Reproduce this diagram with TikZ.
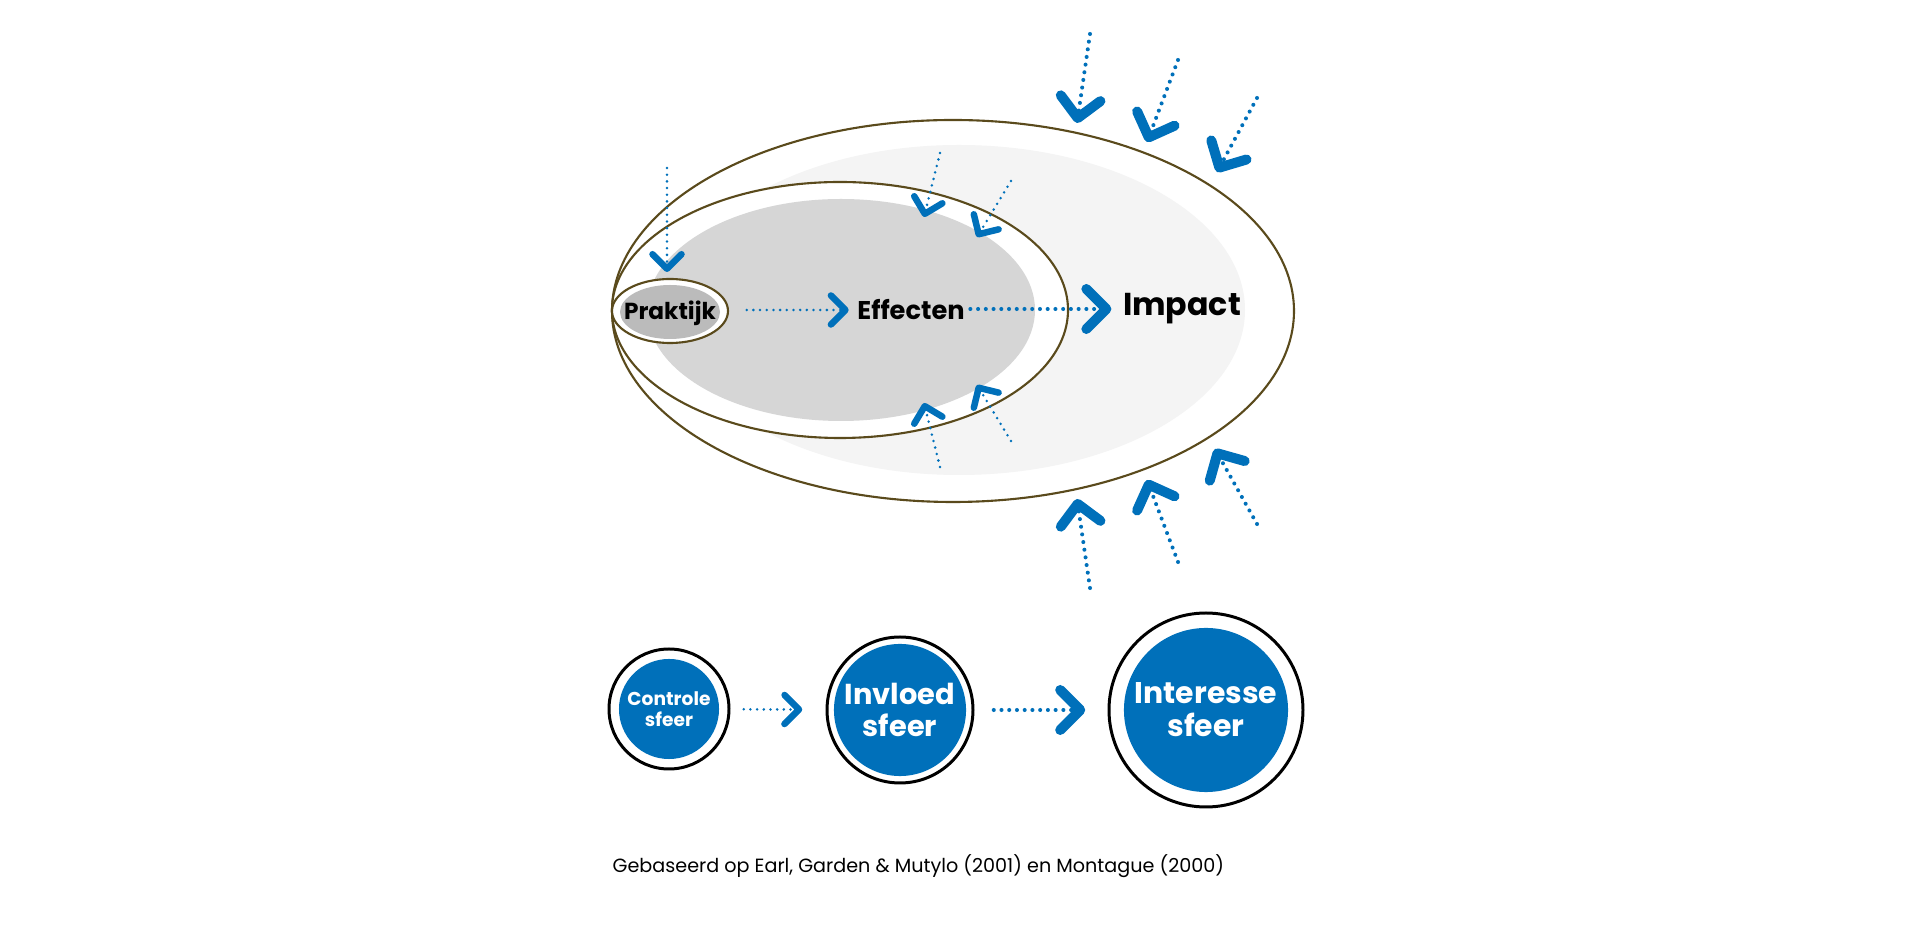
\documentclass[tikz,border=0pt]{standalone}
\usepackage{fontspec}
\setmainfont{Poppins}
\usetikzlibrary{arrows.meta}
\usepackage{xcolor}
\definecolor{blauw}{HTML}{0070BA}
\definecolor{rand}{HTML}{5A4A1C}
\definecolor{lichtgrijs}{HTML}{F4F4F4}
\definecolor{middengrijs}{HTML}{D6D6D6}
\definecolor{donkergrijs}{HTML}{BBBBBB}
\tikzset{>={Straight Barb[length=2mm, width=4mm, line width=1mm, round]}}
\tikzset{
	stippel/.style={color=blauw, line width=1.15pt, line cap=round, dash pattern=on 0pt off 2.2pt},
	fijnstippel/.style={color=blauw, line width=0.8pt, line cap=round, dash pattern=on 0pt off 1.9pt},
	kleinepijl/.style={-{Straight Barb[length=1.45mm, width=2.9mm, line width=0.65mm, round]}},
	bol/.style={circle, fill=blauw, text=white, align=center, inner sep=0pt},
}

\begin{document}
\begin{tikzpicture}[x=0.01cm, y=-0.01cm]
	\useasboundingbox (0,0) rectangle (1920,934);
	\begin{scope}
		%impact: buitenste ellips
		\draw [rand, line width=0.6pt, fill=white] (953,311) ellipse [x radius=341, y radius=191];
		\fill [lichtgrijs] (959,310) ellipse [x radius=286, y radius=165];
		%effecten: middelste ellips
		\draw [rand, line width=0.6pt, fill=white] (840,310) ellipse [x radius=228, y radius=128];
		\fill [middengrijs] (841,310) ellipse [x radius=194, y radius=111];
		%praktijk
		\draw [rand, line width=0.6pt, fill=white] (670,311) ellipse [x radius=58, y radius=32];
		\fill [donkergrijs] (670,312) ellipse [x radius=50, y radius=27];
		\node [inner sep=0pt, text depth=0pt] (praktijk) at (670,310) {\fontsize{6.6}{8}\selectfont\bfseries Praktijk};
		\node [inner sep=0pt, text depth=0pt] (effecten) at (911,309) {\fontsize{7.3}{9}\selectfont\bfseries Effecten};
		\node [inner sep=0pt, text depth=0pt] (impact) at (1182,304) {\fontsize{9}{11}\selectfont\bfseries Impact};
		%pijlen tussen de ellipsen
		\draw [fijnstippel, kleinepijl, shorten <=0.3cm, shorten >=0.08cm] (praktijk.east) -- (praktijk.east -| effecten.west);
		\draw [stippel, arrows=->, shorten <=0.05cm, shorten >=0.11cm] (effecten.east) -- (effecten.east -| impact.west);
		%invloeden van buiten op praktijk
		\coordinate (p0) at (667,168);
		\coordinate (p1) at (667,272);
		\draw [fijnstippel, kleinepijl] (p0) -- (p1);
		%invloeden op effecten
		\coordinate (e1) at (940,153);
		\coordinate (f1) at (924,217);
		\coordinate (e2) at (1011,181);
		\coordinate (f2) at (977,237);
		\coordinate (e3) at (940,467);
		\coordinate (f3) at (924,403);
		\coordinate (e4) at (1011,441);
		\coordinate (f4) at (977,385);
		\draw [fijnstippel, kleinepijl] (e1) -- (f1);
		\draw [fijnstippel, kleinepijl] (e2) -- (f2);
		\draw [fijnstippel, kleinepijl] (e3) -- (f3);
		\draw [fijnstippel, kleinepijl] (e4) -- (f4);
		%invloeden op impact
		\coordinate (i1) at (1090,34);
		\coordinate (j1) at (1077,123);
		\coordinate (i2) at (1178,60);
		\coordinate (j2) at (1147,142);
		\coordinate (i3) at (1257,98);
		\coordinate (j3) at (1217,172);
		\coordinate (i4) at (1090,588);
		\coordinate (j4) at (1077,499);
		\coordinate (i5) at (1178,562);
		\coordinate (j5) at (1147,480);
		\coordinate (i6) at (1257,524);
		\coordinate (j6) at (1215,449);
		\draw [stippel, arrows=->] (i1) -- (j1);
		\draw [stippel, arrows=->] (i2) -- (j2);
		\draw [stippel, arrows=->] (i3) -- (j3);
		\draw [stippel, arrows=->] (i4) -- (j4);
		\draw [stippel, arrows=->] (i5) -- (j5);
		\draw [stippel, arrows=->] (i6) -- (j6);
	\end{scope}
	%sferen
	\node [bol, minimum size=1.0cm, font=\fontsize{5.3}{5.9}\selectfont\bfseries] (controle) at (669,709) {Controle\\sfeer};
	\node [bol, minimum size=1.32cm, font=\fontsize{8.2}{9}\selectfont\bfseries] (invloed) at (900,710) {Invloed\\sfeer};
	\node [bol, minimum size=1.64cm, font=\fontsize{8.5}{9.4}\selectfont\bfseries] (interesse) at (1206,710) {Interesse\\sfeer};
	\draw [line width=0.85pt] (controle.center) circle [radius=60];
	\draw [line width=0.85pt] (invloed.center) circle [radius=73];
	\draw [line width=0.85pt] (interesse.center) circle [radius=97];
	\draw [fijnstippel, kleinepijl, shorten <=0.24cm, shorten >=0.31cm] (controle) -- (invloed);
	\draw [stippel, arrows=->, shorten <=0.27cm, shorten >=0.38cm] (invloed) -- (interesse);
	%bron
	\node [anchor=west, inner sep=0pt] (bron) at (612,866) {\fontsize{5.45}{6.5}\selectfont Gebaseerd op Earl, Garden \& Mutylo (2001) en Montague (2000)};
\end{tikzpicture}
\end{document}
